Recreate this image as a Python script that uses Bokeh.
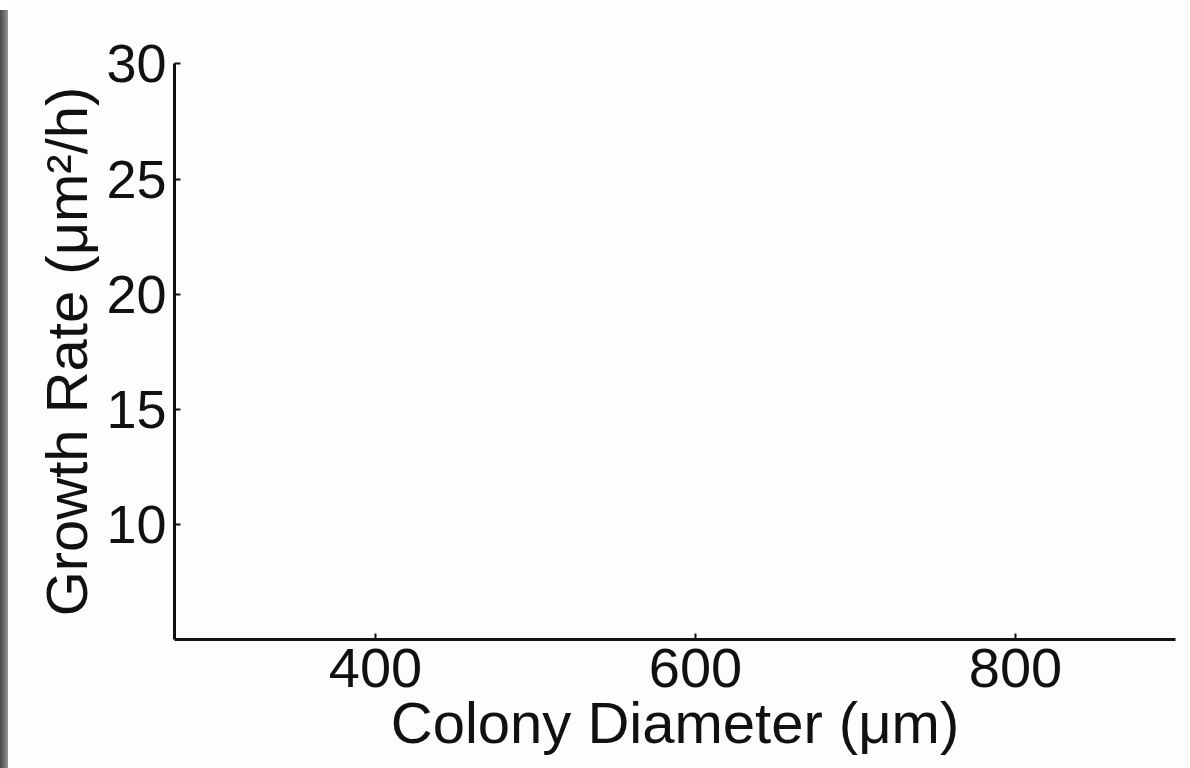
from bokeh.plotting import figure
from bokeh.models import Range1d, FixedTicker, Div
from bokeh.layouts import row
from bokeh.embed import file_html
from bokeh.resources import INLINE

# Axis extents and tick positions
x_limits = [274.4, 900.0]
y_limits = [5.0, 30.02]
x_ticks = [400, 600, 800]
y_ticks = [10, 15, 20, 25, 30]
x_title = "Colony Diameter (μm)"
y_title = "Growth Rate (μm²/h)"

FONT = "Liberation Sans"
INK = "#111111"

p = figure(
    width=1182, height=768,
    output_backend="svg", toolbar_location=None,
    x_range=Range1d(*x_limits), y_range=Range1d(*y_limits),
    min_border_left=166, min_border_right=15,
    min_border_top=63, min_border_bottom=129,
)
p.background_fill_color = "#fdfdfd"
p.border_fill_color = "#fdfdfd"
p.outline_line_color = None
p.grid.visible = False

p.xaxis.ticker = FixedTicker(ticks=x_ticks)
p.yaxis.ticker = FixedTicker(ticks=y_ticks)

for ax in (p.xaxis, p.yaxis):
    ax.axis_line_width = 3
    ax.axis_line_color = INK
    ax.major_tick_line_width = 2
    ax.major_tick_line_color = INK
    ax.major_tick_in = 6
    ax.major_tick_out = 0
    ax.minor_tick_line_color = None
    ax.major_label_text_font = FONT
    ax.major_label_text_color = INK
    ax.axis_label_text_font = FONT
    ax.axis_label_text_font_size = "58px"
    ax.axis_label_text_font_style = "normal"
    ax.axis_label_text_color = INK

p.xaxis.major_label_text_font_size = "56px"
p.yaxis.major_label_text_font_size = "54px"
p.xaxis.axis_label = x_title
p.yaxis.axis_label = y_title
p.xaxis.major_label_standoff = 9
p.xaxis.axis_label_standoff = 0
p.yaxis.major_label_standoff = 8
p.yaxis.axis_label_standoff = 4

# dark edge strip along the left side
edge = Div(
    width=8, height=758, margin=(10, 0, 0, 0),
    styles={"background": "linear-gradient(to right, #4a4a4a, #6a6a6a, #9a9a9a)"},
)

layout = row(edge, p, spacing=0)
open("out.html", "w").write(file_html(layout, INLINE))
